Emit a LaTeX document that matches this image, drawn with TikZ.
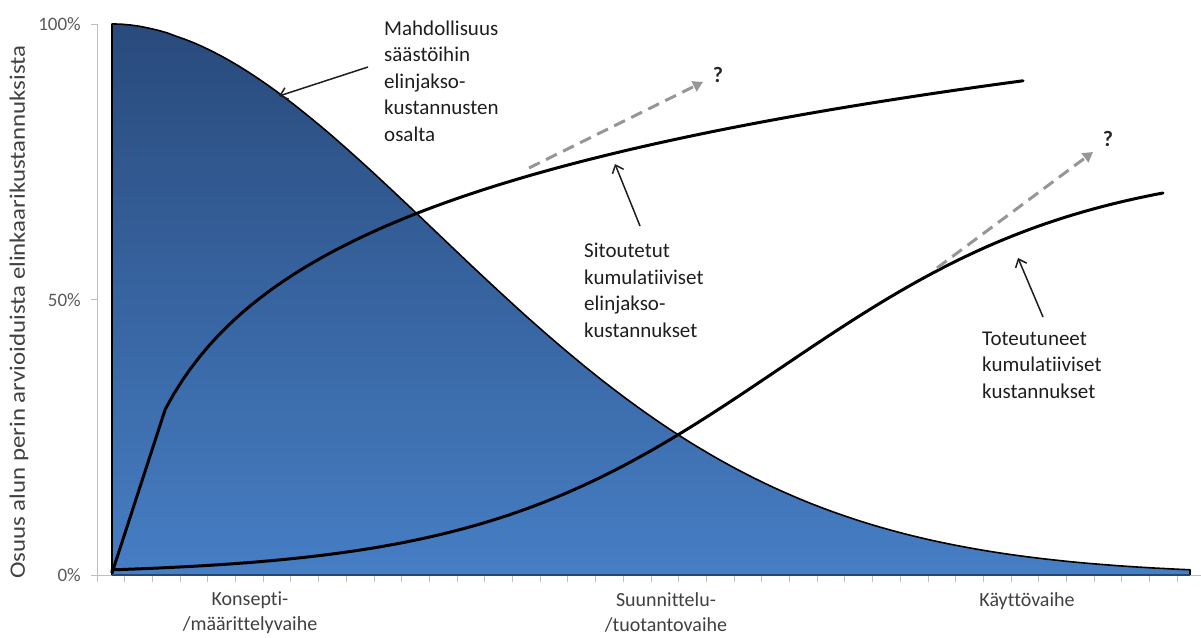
\documentclass[tikz,border=0pt]{standalone}
\usepackage{fontspec}
\setmainfont{Carlito}[RawFeature={-liga;-clig;-calt;-dlig}]
\usetikzlibrary{arrows.meta}
\definecolor{axisgray}{RGB}{191,191,191}
\definecolor{ticktext}{RGB}{89,89,89}
\definecolor{labeltext}{RGB}{64,64,64}
\definecolor{notetext}{RGB}{30,30,30}
\definecolor{areatop}{RGB}{41,74,124}
\definecolor{areabottom}{RGB}{70,126,196}
\definecolor{areaedge}{RGB}{38,70,115}
\definecolor{trendgray}{RGB}{150,150,150}
\begin{document}
\begin{tikzpicture}[x=1pt,y=-1pt,
  axisline/.style={draw=axisgray,line width=1pt},
  ticklabel/.style={font=\fontsize{19}{22}\selectfont,text=ticktext,inner sep=0pt,anchor=east},
  catlabel/.style={font=\fontsize{20}{25}\selectfont,text=labeltext,inner sep=0pt,align=center,anchor=north},
  note/.style={font=\fontsize{21}{26.5}\selectfont,text=notetext,inner sep=0pt,align=left,anchor=north west},
  curve/.style={draw=black,line width=3pt,line join=round,line cap=round},
  pointer/.style={draw=notetext,line width=1.5pt,-{Straight Barb[length=7pt,width=12pt,line width=1.5pt]}},
  trend/.style={draw=trendgray,line width=3pt,dash pattern=on 12pt off 7pt,-{Triangle[length=10pt,width=11pt]}},
  qmark/.style={font=\fontsize{22}{24}\selectfont\bfseries,text=black!85,inner sep=0pt}]
\useasboundingbox (0,0) rectangle (1201,637);

% axes and tick marks
\draw[axisline] (97,24) -- (97,575);
\draw[axisline] (91,575) -- (1201,575);
\foreach \yy in {24,299.5} \draw[axisline] (91,\yy) -- (97,\yy);
\foreach \k in {0,...,39} \draw[axisline] ({97+27.7*\k},575) -- ++(0,7);

% savings potential: shaded area under a bell-shaped decline
\shade[top color=areatop,bottom color=areabottom]
  (112,575) -- (112,24) -- plot[domain=112.5:1190,samples=120]
    (\x,{575-551*exp(-((\x-112)/480)^1.9)})
  -- (1190,575) -- cycle;
\draw[black,line width=1.6pt,line join=round]
  (112,575) -- (112,24) -- plot[domain=112.5:1190,samples=120]
    (\x,{575-551*exp(-((\x-112)/480)^1.9)})
  -- (1190,575);
\draw[areaedge,line width=1.5pt] (112,575) -- (1190,575);

% committed cumulative costs: steep start, then logarithmic growth
\draw[curve] (112,573) -- (165,410) -- plot[domain=165:1023,samples=100]
  (\x,{575-551*(0.3+0.225*ln((\x-100)/65))});

% realised cumulative costs: logistic growth
\draw[curve] (112,572) -- plot[domain=112:1163,samples=120]
  (\x,{575-551*0.75/(1+exp(-(\x-780)/153))});

% uncertain trends
\coordinate (t1s) at (529,168);
\coordinate (t1e) at (703,82);
\coordinate (t2s) at (937,268);
\coordinate (t2e) at (1093,152);
\draw[trend] (t1s) -- (t1e);
\draw[trend] (t2s) -- (t2e);
\node[qmark] (q1) at (718,75) {?};
\node[qmark] (q2) at (1108,139) {?};

% annotations
\node[note] (n1) at (384,20.5) {Mahdollisuus\\säästöihin\\elinjakso-\\kustannusten\\osalta};
\node[note] (n2) at (584,243) {Sitoutetut\\kumulatiiviset\\elinjakso-\\kustannukset};
\node[note] (n3) at (982,331.5) {Toteutuneet\\kumulatiiviset\\kustannukset};
\coordinate (p1s) at (368,67);
\coordinate (p1e) at (279,96);
\coordinate (p2s) at (640,226);
\coordinate (p2e) at (615,164);
\coordinate (p3s) at (1043,317);
\coordinate (p3e) at (1018,258);
\draw[pointer] (p1s) -- (p1e);
\draw[pointer] (p2s) -- (p2e);
\draw[pointer] (p3s) -- (p3e);

% axis labels
\node[ticklabel] (y100) at (81,24) {100\%};
\node[ticklabel] (y50) at (81,300) {50\%};
\node[ticklabel] (y0) at (81,575) {0\%};
\node[font=\fontsize{22}{26}\selectfont,text=labeltext,inner sep=0pt,rotate=90] (ytitle) at (19,312)
  {\scalebox{1.13}[1]{Osuus alun perin arvioiduista elinkaarikustannuksista}};
\node[catlabel] (c1) at (250,592) {Konsepti-\\/määrittelyvaihe};
\node[catlabel] (c2) at (666,592) {Suunnittelu-\\/tuotantovaihe};
\node[catlabel] (c3) at (1027,592) {Käyttövaihe};
\end{tikzpicture}
\end{document}
